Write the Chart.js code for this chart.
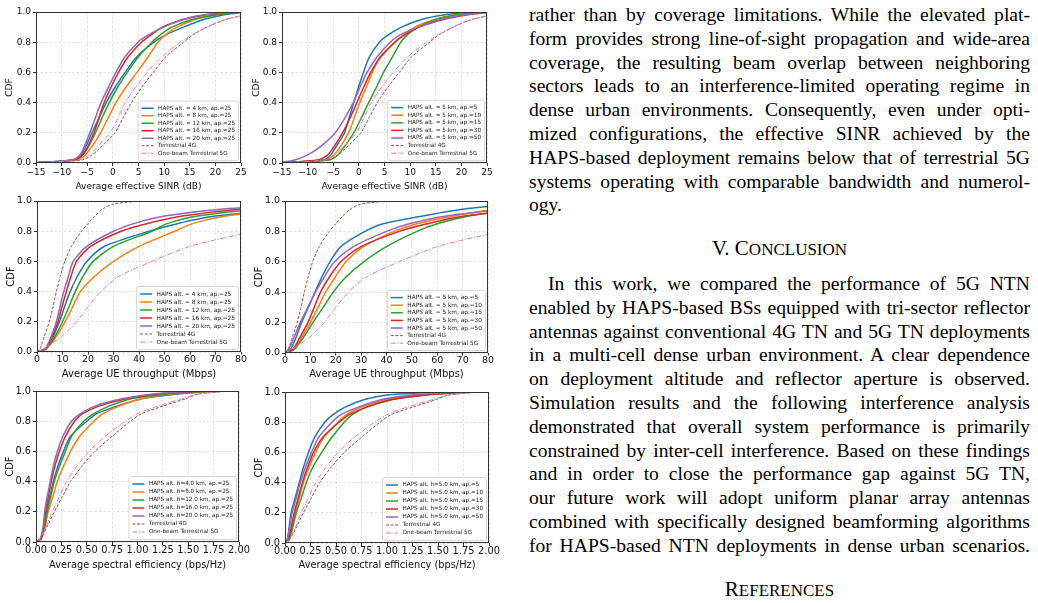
<!DOCTYPE html>
<html>
<head>
<meta charset="utf-8">
<script src="https://cdn.jsdelivr.net/npm/chart.js@4"></script>
<style>
  body { margin: 0; width: 1038px; height: 603px; background: #fff; position: relative; overflow: hidden; }
  canvas { position: absolute; }
  .blk { position: absolute; left: 529px; width: 501px; font-family: "Liberation Serif", "Times New Roman", serif; font-size: 19.6px; color: #000; }
  .ln { height: 23.8px; line-height: 23.8px; text-align: justify; text-align-last: justify; white-space: nowrap; }
  .ln.end { text-align: left; text-align-last: left; }
  .ind { text-indent: 19px; }
  .head { text-align: center; line-height: 23.8px; font-size: 21px; }
  .sc { font-size: 17px; }
</style>
</head>
<body>
<canvas id="c1" width="250" height="193" style="left:0;top:0"></canvas>
<canvas id="c2" width="255" height="193" style="left:250px;top:0"></canvas>
<canvas id="c3" width="250" height="190" style="left:0;top:193px"></canvas>
<canvas id="c4" width="255" height="190" style="left:250px;top:193px"></canvas>
<canvas id="c5" width="250" height="220" style="left:0;top:383px"></canvas>
<canvas id="c6" width="255" height="220" style="left:250px;top:383px"></canvas>

<div class="blk" style="top:3px">
  <div class="ln">rather than by coverage limitations. While the elevated plat-</div>
  <div class="ln">form provides strong line-of-sight propagation and wide-area</div>
  <div class="ln">coverage, the resulting beam overlap between neighboring</div>
  <div class="ln">sectors leads to an interference-limited operating regime in</div>
  <div class="ln">dense urban environments. Consequently, even under opti-</div>
  <div class="ln">mized configurations, the effective SINR achieved by the</div>
  <div class="ln">HAPS-based deployment remains below that of terrestrial 5G</div>
  <div class="ln">systems operating with comparable bandwidth and numerol-</div>
  <div class="ln end">ogy.</div>
</div>
<div class="blk head" style="top:237px">V. C<span class="sc">ONCLUSION</span></div>
<div class="blk" style="top:272px">
  <div class="ln ind">In this work, we compared the performance of 5G NTN</div>
  <div class="ln">enabled by HAPS-based BSs equipped with tri-sector reflector</div>
  <div class="ln">antennas against conventional 4G TN and 5G TN deployments</div>
  <div class="ln">in a multi-cell dense urban environment. A clear dependence</div>
  <div class="ln">on deployment altitude and reflector aperture is observed.</div>
  <div class="ln">Simulation results and the following interference analysis</div>
  <div class="ln">demonstrated that overall system performance is primarily</div>
  <div class="ln">constrained by inter-cell interference. Based on these findings</div>
  <div class="ln">and in order to close the performance gap against 5G TN,</div>
  <div class="ln">our future work will adopt uniform planar array antennas</div>
  <div class="ln">combined with specifically designed beamforming algorithms</div>
  <div class="ln">for HAPS-based NTN deployments in dense urban scenarios.</div>
</div>
<div class="blk head" style="top:578px">R<span class="sc">EFERENCES</span></div>

<script>
// CDF level of every point; each series below gives the x value reached at that level
const cdfLevels = [0, 0.02, 0.05, 0.1, 0.2, 0.3, 0.4, 0.5, 0.6, 0.7, 0.8, 0.85, 0.9, 0.95, 0.98, 1];

// average effective SINR (dB)
const sinrH4  = [-16, -7.8, -6.3, -5.4, -4.1, -2.7, -1.3, 0.4, 2.4, 4.6, 8.0, 10.4, 13.8, 17.7, 21.5, 26];
const sinrH8  = [-16, -7.0, -5.5, -4.3, -2.4, -0.9, 0.6, 2.5, 4.7, 6.8, 8.8, 10.3, 12.5, 16, 20, 24];
const sinrH12 = [-16, -7.5, -6.0, -4.9, -3.4, -2.1, -0.7, 0.9, 2.8, 4.9, 7.6, 9.3, 11.5, 15.5, 20, 25];
const sinrH16 = [-16, -7.5, -6.0, -5.0, -3.7, -2.7, -1.7, -0.4, 1.1, 2.9, 5.6, 7.5, 9.7, 13.8, 18, 24];
const sinrH20 = [-16, -8.0, -6.5, -5.7, -4.5, -3.4, -2.3, -0.9, 0.6, 2.3, 4.9, 7.0, 9.9, 13.6, 17.5, 24];
const sinrAp5  = [-16, -7.0, -5.6, -4.6, -2.8, -1.9, -1.0, -0.1, 0.9, 2.0, 4.0, 5.8, 8.3, 12.2, 16.5, 22];
const sinrAp10 = [-16, -6.5, -5.0, -3.8, -2.0, -0.9, 0.2, 1.4, 2.6, 4.1, 7.0, 8.8, 10.9, 14.8, 18.5, 24];
const sinrAp15 = [-16, -5.8, -4.2, -3.0, -1.0, 0.5, 1.9, 3.4, 4.8, 6.5, 8.2, 9.5, 11.6, 15, 19, 24];
const sinrAp30 = [-16, -8, -6.2, -5.0, -3.2, -1.7, -0.4, 0.9, 2.3, 4.2, 7.0, 9.0, 11.8, 16.5, 21, 26];
const sinrAp50 = [-16, -12.5, -10.2, -7.8, -4.6, -2.7, -1.1, 0.2, 1.6, 3.5, 6.1, 8.1, 11.6, 16, 20.5, 26];
const sinr4G = [-16, -6, -4.2, -2.5, 0.4, 2.0, 3.6, 5.6, 7.9, 10.2, 13.8, 15.7, 18.4, 22, 26, 30];
const sinr5G = [-16, -6.5, -4.8, -3.2, -0.5, 1.0, 2.4, 4.4, 6.7, 9.4, 13.2, 15.5, 18.3, 22, 25.8, 32];

// average UE throughput (Mbps)
const tputH4  = [0, 3.3, 4.6, 6.3, 8.8, 10.8, 13, 15.8, 19.5, 26.5, 44, 55, 70, 100, 130, 170];
const tputH8  = [0, 3.6, 5.3, 7.5, 11, 14, 17, 22.5, 30, 40, 54, 61, 74, 100, 130, 170];
const tputH12 = [0, 3.5, 5, 7, 10, 12.5, 15, 18, 22, 30, 45, 51, 63, 90, 120, 160];
const tputH16 = [0, 3.2, 4.5, 6.0, 8.2, 9.8, 11.5, 13.3, 15.5, 21, 33, 43, 57, 82, 115, 160];
const tputH20 = [0, 3, 4.2, 5.5, 7.6, 9.0, 10.5, 12.3, 14.2, 19.5, 30, 38, 50, 75, 110, 160];
const tputAp5  = [0, 2, 3, 4.3, 6.5, 9.2, 11.8, 14.5, 17.7, 22, 31.5, 38.7, 53.8, 72, 95, 130];
const tputAp10 = [0, 3, 4.5, 6.5, 10, 13, 16, 19.8, 24, 31, 43, 52, 66, 85, 120, 160];
const tputAp15 = [0, 3.5, 5, 7.2, 11, 15, 19, 24, 31, 40, 52, 60, 72, 95, 125, 160];
const tputAp30 = [0, 2.8, 4.2, 5.8, 9.0, 11.5, 14, 17.5, 22, 30, 45, 56, 70, 100, 130, 170];
const tputAp50 = [0, 1.2, 2.2, 3.5, 6.0, 9.0, 12.0, 15.5, 19.5, 27, 40, 49, 63, 90, 120, 160];
const tput4G = [0, 1.2, 1.8, 2.8, 4.8, 6.3, 7.6, 9.1, 10.9, 13.5, 17.4, 20, 22.7, 26, 30, 40];
const tput5G = [0, 2.5, 5, 9.5, 15.5, 20, 25, 32, 45, 60, 86, 110, 140, 180, 220, 260];

// average spectral efficiency (bps/Hz)
const seH4  = [0, 0.045, 0.06, 0.08, 0.1, 0.135, 0.17, 0.215, 0.27, 0.34, 0.5, 0.6, 0.8, 1.05, 1.4, 1.8];
const seH8  = [0, 0.05, 0.07, 0.09, 0.12, 0.165, 0.21, 0.27, 0.34, 0.43, 0.57, 0.66, 0.82, 1.05, 1.35, 1.8];
const seH12 = [0, 0.05, 0.065, 0.085, 0.11, 0.145, 0.18, 0.23, 0.29, 0.35, 0.47, 0.57, 0.72, 0.95, 1.3, 1.75];
const seH16 = [0, 0.045, 0.06, 0.075, 0.095, 0.12, 0.15, 0.185, 0.23, 0.29, 0.38, 0.46, 0.62, 0.9, 1.2, 1.65];
const seH20 = [0, 0.04, 0.055, 0.07, 0.085, 0.11, 0.14, 0.17, 0.21, 0.265, 0.35, 0.44, 0.58, 0.86, 1.15, 1.6];
const seAp5  = [0, 0.02, 0.03, 0.04, 0.06, 0.1, 0.14, 0.18, 0.23, 0.29, 0.39, 0.47, 0.59, 0.78, 1.0, 1.5];
const seAp10 = [0, 0.035, 0.05, 0.07, 0.1, 0.14, 0.18, 0.235, 0.3, 0.38, 0.52, 0.6, 0.75, 1.0, 1.3, 1.75];
const seAp15 = [0, 0.04, 0.055, 0.075, 0.11, 0.16, 0.21, 0.27, 0.36, 0.46, 0.58, 0.66, 0.8, 1.05, 1.35, 1.8];
const seAp30 = [0, 0.03, 0.045, 0.06, 0.09, 0.13, 0.17, 0.22, 0.28, 0.37, 0.53, 0.63, 0.8, 1.05, 1.4, 1.8];
const seAp50 = [0, 0.02, 0.03, 0.045, 0.07, 0.11, 0.15, 0.2, 0.26, 0.33, 0.46, 0.55, 0.72, 0.95, 1.25, 1.7];
const se4G = [0, 0.04, 0.07, 0.11, 0.18, 0.26, 0.34, 0.45, 0.58, 0.75, 0.93, 1.04, 1.25, 1.48, 1.6, 1.9];
const se5G = [0, 0.04, 0.065, 0.1, 0.16, 0.23, 0.3, 0.4, 0.52, 0.68, 0.88, 1.0, 1.2, 1.45, 1.6, 1.9];

const altLabels = ['HAPS alt. = 4 km, ap.=25', 'HAPS alt. = 8 km, ap.=25', 'HAPS alt. = 12 km, ap.=25', 'HAPS alt. = 16 km, ap.=25', 'HAPS alt. = 20 km, ap.=25'];
const apLabels = ['HAPS alt. = 5 km, ap.=5', 'HAPS alt. = 5 km, ap.=10', 'HAPS alt. = 5 km, ap.=15', 'HAPS alt. = 5 km, ap.=30', 'HAPS alt. = 5 km, ap.=50'];
const altLabelsH = ['HAPS alt. h=4.0 km, ap.=25', 'HAPS alt. h=8.0 km, ap.=25', 'HAPS alt. h=12.0 km, ap.=25', 'HAPS alt. h=16.0 km, ap.=25', 'HAPS alt. h=20.0 km, ap.=25'];
const apLabelsH = ['HAPS alt. h=5.0 km, ap.=5', 'HAPS alt. h=5.0 km, ap.=10', 'HAPS alt. h=5.0 km, ap.=15', 'HAPS alt. h=5.0 km, ap.=30', 'HAPS alt. h=5.0 km, ap.=50'];
const terrLabels = ['Terrestrial 4G', 'One-beam Terrestrial 5G'];

// axis range: [min, max, step]
const sinrRange = [-15, 25, 5];
const tputRange = [0, 80, 10];
const seRange = [0, 2, 0.25];
const cdfRange = [0, 1, 0.2];

const hapsColors = ['#1f77b4', '#ff7f0e', '#2ca02c', '#d62728', '#9467bd'];

Chart.defaults.font.family = '"DejaVu Sans", sans-serif';
Chart.defaults.color = '#111';

function toPts(q) {
  return q.map((x, i) => ({x: x, y: cdfLevels[i]}));
}

function makeSets(haps, labels, t4, t5) {
  var sets = haps.map((q, i) => ({
    label: labels[i], data: toPts(q), borderColor: hapsColors[i], borderWidth: 1.5
  }));
  sets.push({label: terrLabels[0], data: toPts(t4), borderColor: '#8c564b', borderWidth: 1, borderDash: [3, 1.6]});
  sets.push({label: terrLabels[1], data: toPts(t5), borderColor: '#e377c2', borderWidth: 1, borderDash: [5, 1.6, 1, 1.6]});
  // last series on top, like the original plot
  sets.forEach((d, i) => { d.order = sets.length - i; });
  return sets;
}

function fmt(v, digits) {
  var s = Math.abs(v).toFixed(digits);
  return v < -1e-9 ? '\u2212' + s : s;
}

// frame round the plot + legend in the lower right corner
var frameLegend = {
  id: 'frameLegend',
  afterDraw: function(chart, args, o) {
    var ctx = chart.ctx, a = chart.chartArea;
    ctx.save();
    ctx.strokeStyle = '#333';
    ctx.lineWidth = 1;
    ctx.strokeRect(a.left + 0.5, a.top + 0.5, a.right - a.left - 1, a.bottom - a.top - 1);

    var sets = chart.data.datasets;
    ctx.font = o.size + 'px "DejaVu Sans"';
    var tw = Math.max.apply(null, sets.map(d => ctx.measureText(d.label).width));
    var w = o.pad * 2 + o.handle + o.gap + tw;
    var h = o.pad * 2 + o.row * sets.length;
    var x = a.right - o.inset - w, y = a.bottom - o.inset - h;
    ctx.beginPath();
    ctx.roundRect(x, y, w, h, 2);
    ctx.fillStyle = 'rgba(255,255,255,0.85)';
    ctx.fill();
    ctx.strokeStyle = '#cccccc';
    ctx.lineWidth = 0.8;
    ctx.stroke();
    sets.forEach((d, i) => {
      var cy = y + o.pad + o.row * (i + 0.5);
      ctx.beginPath();
      ctx.setLineDash(d.borderDash || []);
      ctx.strokeStyle = d.borderColor;
      ctx.lineWidth = d.borderWidth;
      ctx.moveTo(x + o.pad, cy);
      ctx.lineTo(x + o.pad + o.handle, cy);
      ctx.stroke();
      ctx.setLineDash([]);
      ctx.fillStyle = '#222';
      ctx.textBaseline = 'middle';
      ctx.fillText(d.label, x + o.pad + o.handle + o.gap, cy);
    });
    ctx.restore();
  }
};

function panel(id, sets, xr, digits, xTitle, g) {
  var cv = document.getElementById(id);
  var gridDash = [2.5, 2];
  return new Chart(cv.getContext('2d'), {
    type: 'line',
    data: {datasets: sets},
    plugins: [frameLegend],
    options: {
      responsive: false,
      animation: false,
      layout: {padding: {left: 0, top: g.top, right: cv.width - g.right, bottom: 0}},
      elements: {
        point: {radius: 0},
        line: {tension: 0.25}
      },
      plugins: {
        legend: {display: false},
        tooltip: {enabled: false},
        frameLegend: g.legend
      },
      scales: {
        x: {
          type: 'linear', min: xr[0], max: xr[1],
          afterFit: s => { s.height = cv.height - g.bottom; },
          ticks: {stepSize: xr[2], autoSkip: false, maxRotation: 0, padding: g.xPad,
                  font: {size: g.tick}, callback: v => fmt(v, digits)},
          grid: {color: 'rgba(0,0,0,0.13)', lineWidth: 0.8, tickLength: g.tl, tickColor: '#333',
                 tickWidth: 1, tickBorderDash: []},
          border: {display: false, dash: gridDash},
          title: {display: true, text: xTitle, font: {size: g.title}, padding: {top: 0, bottom: g.xtb}}
        },
        y: {
          min: cdfRange[0], max: cdfRange[1],
          afterFit: s => { s.width = g.left; },
          ticks: {stepSize: cdfRange[2], padding: 2, font: {size: g.tick}, callback: v => fmt(v, 1)},
          grid: {color: 'rgba(0,0,0,0.13)', lineWidth: 0.8, tickLength: 3, tickColor: '#333',
                 tickWidth: 1, tickBorderDash: []},
          border: {display: false, dash: gridDash},
          title: {display: true, text: 'CDF', font: {size: g.title}, padding: {top: g.ytp, bottom: 0}}
        }
      }
    }
  });
}

var sinrTitle = 'Average effective SINR (dB)';
var tputTitle = 'Average UE throughput (Mbps)';
var seTitle = 'Average spectral efficiency (bps/Hz)';

panel('c1', makeSets([sinrH4, sinrH8, sinrH12, sinrH16, sinrH20], altLabels, sinr4G, sinr5G), sinrRange, 0, sinrTitle,
  {left: 36, right: 241, top: 12, bottom: 163, tick: 9, title: 9.1, tl: 3, xPad: 1, xtb: 1, ytp: 4.5,
   legend: {size: 5.7, row: 7.5, pad: 3.5, handle: 12, gap: 4.5, inset: 2.5}});
panel('c2', makeSets([sinrAp5, sinrAp10, sinrAp15, sinrAp30, sinrAp50], apLabels, sinr4G, sinr5G), sinrRange, 0, sinrTitle,
  {left: 32, right: 237, top: 12, bottom: 163, tick: 9, title: 9.1, tl: 3, xPad: 1, xtb: 1, ytp: 0.8,
   legend: {size: 5.7, row: 7.6, pad: 3.5, handle: 12, gap: 4.5, inset: 2.5}});
panel('c3', makeSets([tputH4, tputH8, tputH12, tputH16, tputH20], altLabels, tput4G, tput5G), tputRange, 0, tputTitle,
  {left: 37, right: 241, top: 8, bottom: 159, tick: 9.5, title: 10, tl: 2.5, xPad: -0.5, xtb: 3, ytp: 5,
   legend: {size: 5.8, row: 8, pad: 3.5, handle: 12, gap: 4.5, inset: 2.5}});
panel('c4', makeSets([tputAp5, tputAp10, tputAp15, tputAp30, tputAp50], apLabels, tput4G, tput5G), tputRange, 0, tputTitle,
  {left: 35, right: 238, top: 8, bottom: 160, tick: 9.5, title: 10, tl: 2.5, xPad: -0.5, xtb: 3, ytp: 3,
   legend: {size: 5.8, row: 7.6, pad: 3.5, handle: 12, gap: 4.5, inset: 2.5}});
panel('c5', makeSets([seH4, seH8, seH12, seH16, seH20], altLabelsH, se4G, se5G), seRange, 2, seTitle,
  {left: 36, right: 239, top: 8, bottom: 159, tick: 9.8, title: 9.8, tl: 3, xPad: 0, xtb: 31.4, ytp: 4.6,
   legend: {size: 5.7, row: 8, pad: 3.5, handle: 12, gap: 4.5, inset: 2.5}});
panel('c6', makeSets([seAp5, seAp10, seAp15, seAp30, seAp50], apLabelsH, se4G, se5G), seRange, 2, seTitle,
  {left: 35, right: 239, top: 9, bottom: 160, tick: 9.8, title: 9.8, tl: 3, xPad: 0, xtb: 31.4, ytp: 3.1,
   legend: {size: 5.7, row: 8, pad: 3.5, handle: 12, gap: 4.5, inset: 2.5}});
</script>
</body>
</html>
